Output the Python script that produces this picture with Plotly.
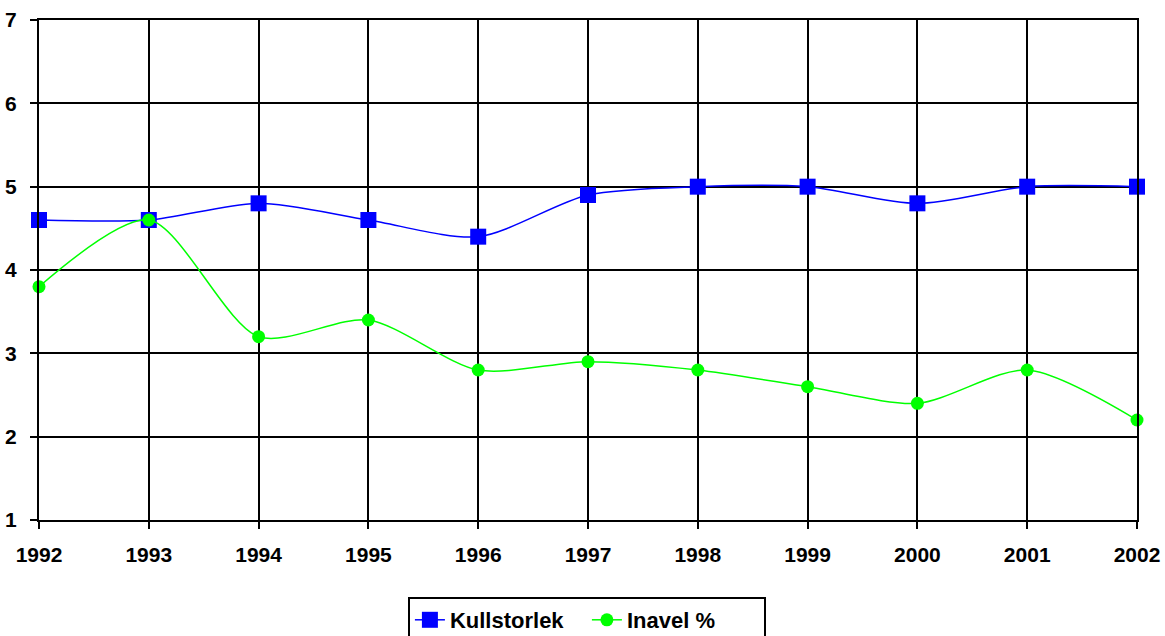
import plotly.graph_objects as go

years = [1992, 1993, 1994, 1995, 1996, 1997, 1998, 1999, 2000, 2001, 2002]
kullstorlek = [4.6, 4.6, 4.8, 4.6, 4.4, 4.9, 5.0, 5.0, 4.8, 5.0, 5.0]
inavel = [3.8, 4.6, 3.2, 3.4, 2.8, 2.9, 2.8, 2.6, 2.4, 2.8, 2.2]
y_ticks = [1, 2, 3, 4, 5, 6, 7]

fig = go.Figure()
fig.add_trace(go.Scatter(
    x=years, y=kullstorlek, name="Kullstorlek", mode="lines+markers",
    line=dict(color="#0000ff", width=1.5, shape="spline", smoothing=0.8),
    marker=dict(symbol="square", size=16, color="#0000ff"),
    cliponaxis=False,
))
fig.add_trace(go.Scatter(
    x=years, y=inavel, name="Inavel %", mode="lines+markers",
    line=dict(color="#00ff00", width=1.5, shape="spline", smoothing=0.8),
    marker=dict(symbol="circle", size=13, color="#00ff00"),
    cliponaxis=False,
))

tick_font = dict(family="Liberation Sans, Arial, sans-serif", size=21, color="black", weight="bold")
legend_font = dict(family="Liberation Sans, Arial, sans-serif", size=22, color="black", weight="bold")

fig.update_layout(
    width=1165, height=636,
    margin=dict(l=39, r=28, t=20, b=116, autoexpand=False),
    paper_bgcolor="white", plot_bgcolor="white",
    font=tick_font,
    showlegend=True,
    legend=dict(
        orientation="h", x=0.499, xanchor="center", y=-0.154, yanchor="top",
        bordercolor="black", borderwidth=2, font=legend_font,
        tracegroupgap=0, entrywidth=132,
    ),
    xaxis=dict(
        range=[1992, 2002], tickmode="array", tickvals=years,
        ticktext=[str(y) for y in years],
        showgrid=True, gridcolor="black", gridwidth=2,
        showline=True, linecolor="black", linewidth=2, mirror=True,
        ticks="outside", ticklen=7, tickwidth=2, tickcolor="black",
        ticklabelstandoff=8,
        zeroline=False, tickfont=tick_font, automargin=False,
    ),
    yaxis=dict(
        range=[1, 7], tickmode="array", tickvals=y_ticks,
        showgrid=True, gridcolor="black", gridwidth=2,
        showline=True, linecolor="black", linewidth=2, mirror=True,
        ticks="outside", ticklen=7, tickwidth=2, tickcolor="black",
        ticklabelstandoff=9,
        zeroline=False, tickfont=tick_font, automargin=False,
    ),
)

fig.write_html(
    "out.html",
    config={"displayModeBar": False},
    post_script="document.body.style.margin='0';document.body.style.overflow='hidden';",
)
